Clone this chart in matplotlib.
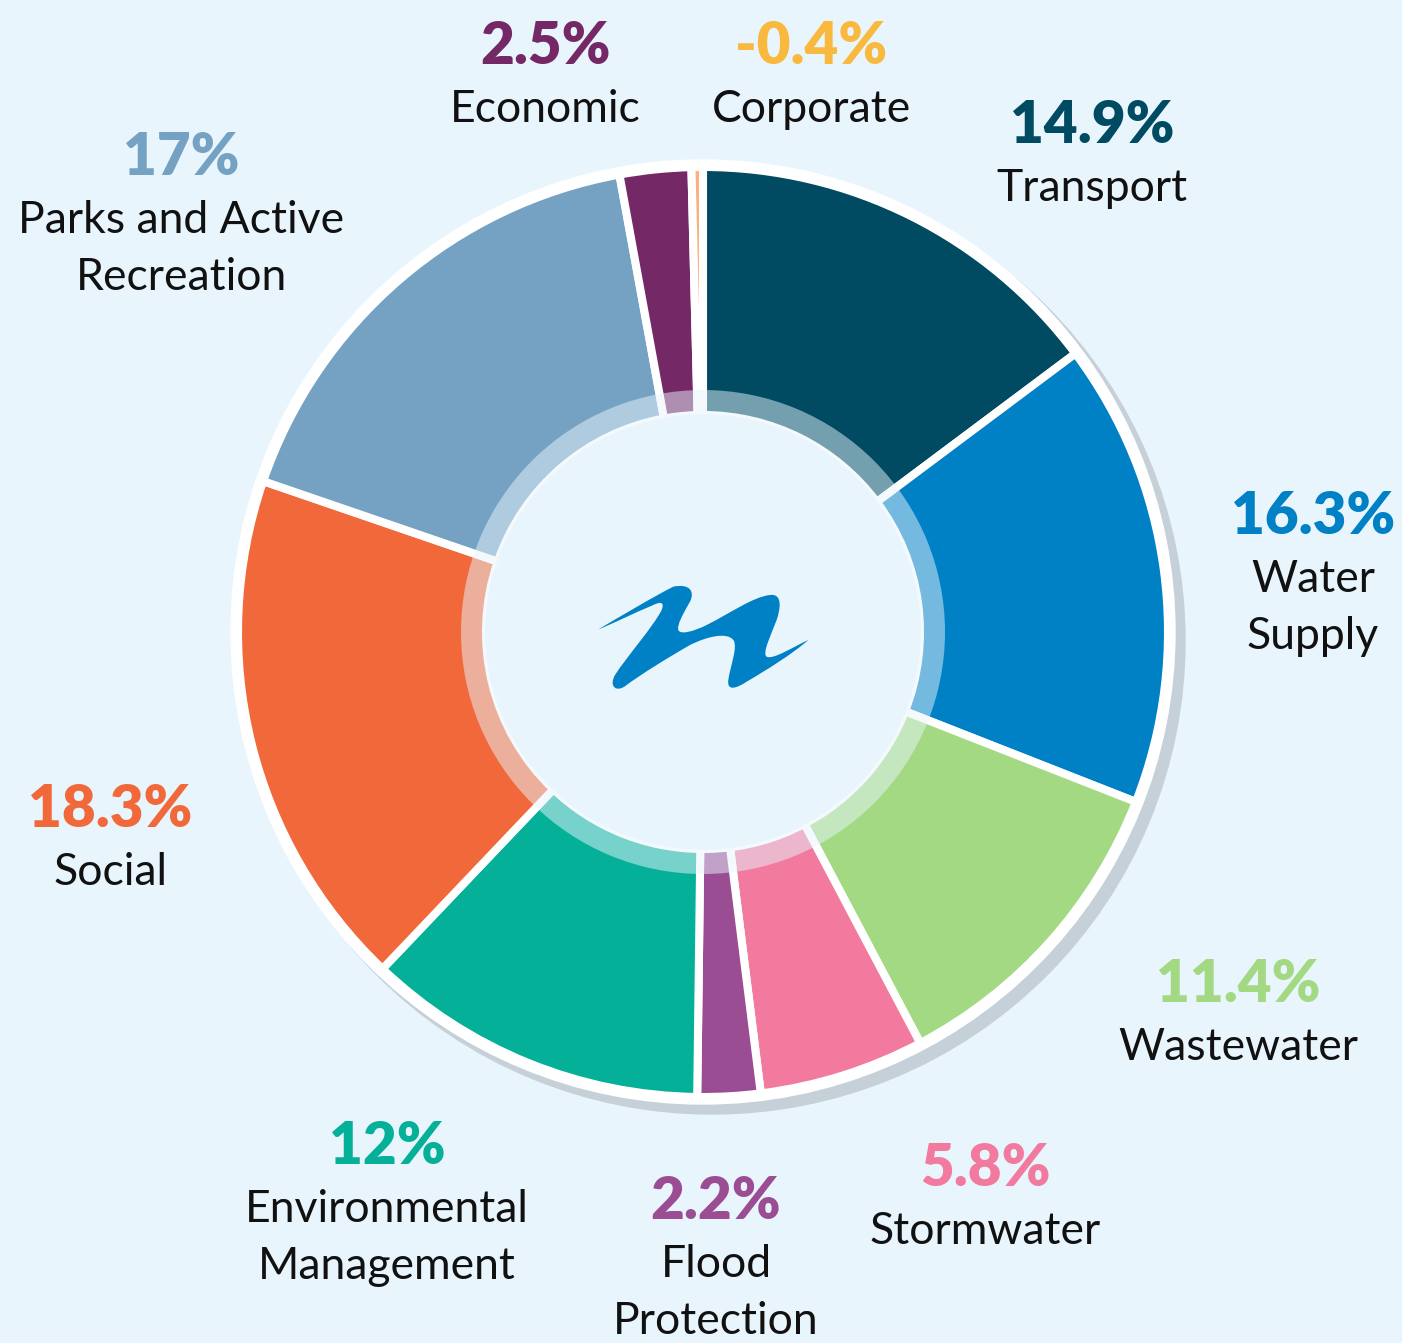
import matplotlib.pyplot as plt
from matplotlib.patches import Circle, PathPatch, Wedge
from matplotlib.path import Path

# Data (clockwise from 12 o'clock)
categories = ['Transport', 'Water\nSupply', 'Wastewater', 'Stormwater', 'Flood\nProtection',
              'Environmental\nManagement', 'Social', 'Parks and Active\nRecreation',
              'Economic', 'Corporate']
values = [14.9, 16.3, 11.4, 5.8, 2.2, 12, 18.3, 17, 2.5, -0.4]
pct_labels = ['14.9%', '16.3%', '11.4%', '5.8%', '2.2%', '12%', '18.3%', '17%', '2.5%', '-0.4%']
wedge_colors = ['#004a62', '#0080c5', '#a2d982', '#f17a9e', '#9b4d93',
                '#05b098', '#f1693a', '#75a2c3', '#742866', '#fbb07e']
label_colors = ['#004a62', '#0080c5', '#a2d982', '#f17a9e', '#9b4d93',
                '#05b098', '#f1693a', '#75a2c3', '#742866', '#f9b93e']

W, H = 1402, 1343
bg = '#e8f5fc'
cx, cy = 703, H - 632
R, R_in, R_ring = 465, 217, 242

fig = plt.figure(figsize=(W / 100, H / 100), dpi=100, facecolor=bg)
ax = fig.add_axes([0, 0, 1, 1])

# shadow + white border
ax.add_patch(Circle((cx + 9, cy - 9), R + 8, color='#c6d0d8', zorder=0))
ax.add_patch(Circle((cx, cy), R + 7, color='white', zorder=1))

sizes = [abs(v) for v in values]
ax.pie(sizes, colors=wedge_colors, radius=R, center=(cx, cy), startangle=90, counterclock=False,
       wedgeprops=dict(width=R - R_in, edgecolor='white', linewidth=5.8, zorder=2), frame=True)

# lighter inner band + hole
ax.add_patch(Wedge((cx, cy), R_ring, 0, 360, width=R_ring - R_in, facecolor=bg, alpha=0.5,
                   edgecolor='none', zorder=4))
ax.add_patch(Circle((cx, cy), R_in, color=bg, zorder=5))

ax.set_xlim(0, W)
ax.set_ylim(0, H)
ax.set_aspect('equal')
ax.axis('off')

# centre logo (wave)
pts = [(55, 208),
       (120, 170), (220, 110), (280, 80),
       (330, 70), (345, 95), (330, 125),
       (310, 160), (290, 195), (295, 210),
       (300, 225), (340, 215), (380, 195),
       (450, 160), (520, 110), (570, 105),
       (610, 100), (600, 150), (590, 180),
       (575, 220), (545, 280), (560, 290),
       (580, 300), (640, 260), (685, 240),
       (640, 280), (560, 330), (500, 365),
       (470, 385), (440, 395), (445, 360),
       (450, 320), (475, 260), (460, 240),
       (440, 215), (380, 230), (330, 255),
       (260, 295), (180, 345), (140, 375),
       (110, 400), (85, 380), (105, 345),
       (140, 290), (220, 200), (245, 150),
       (255, 125), (240, 125), (220, 135),
       (160, 160), (90, 195), (55, 208)]
verts = [(580 + x / 3, H - (560 + y / 3)) for x, y in pts]
codes = [Path.MOVETO] + [Path.CURVE4] * (len(verts) - 1)
ax.add_patch(PathPatch(Path(verts, codes), facecolor='#0080c5', edgecolor='none', zorder=6))

# labels: x centre, baseline of percent (pixels from top)
label_pos = [(1092, 143), (1313, 534), (1238, 1002), (985, 1186), (716, 1219),
             (387, 1164), (110, 827), (181, 175), (545, 64), (811, 64)]
font = 'Lato'
for (x, yb), name, pct, col in zip(label_pos, categories, pct_labels, label_colors):
    ax.text(x, H - yb, pct, color=col, fontsize=42, fontweight='heavy', family=font,
            ha='center', va='baseline')
    for i, line in enumerate(name.split('\n')):
        ax.text(x, H - (yb + 58 + 57 * i), line, color='#111111', fontsize=32,
                fontweight='normal', family=font, ha='center', va='baseline')

fig.savefig('out.png', dpi=100, facecolor=bg)
